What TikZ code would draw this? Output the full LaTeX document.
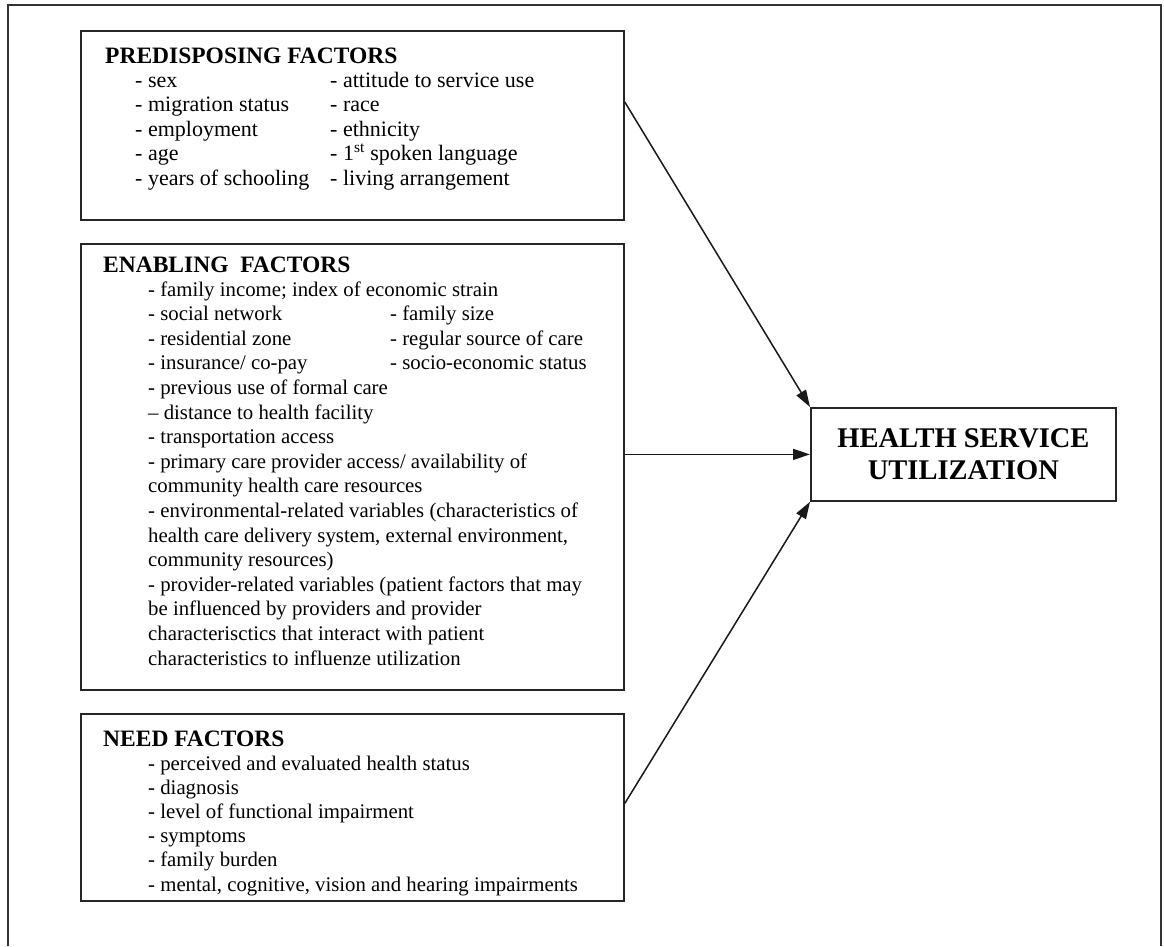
\documentclass[tikz,border=0pt]{standalone}
\usepackage{fontspec}
\setmainfont{Liberation Serif}
\usetikzlibrary{arrows.meta}
\begin{document}
\begin{tikzpicture}[x=1pt,y=-1pt,
  frame/.style={draw=black!80,line width=1.6pt},
  factorbox/.style={draw=black!85,line width=1.8pt,rectangle,anchor=north west,inner sep=0pt},
  heading/.style={anchor=base west,inner sep=0pt,font=\fontsize{23.5}{28}\selectfont\bfseries},
  item/.style={anchor=base west,inner sep=0pt,font=\fontsize{20.8}{25}\selectfont},
  wideitem/.style={item,font=\fontsize{22}{26}\selectfont},
  outcome/.style={draw=black!85,line width=1.8pt,rectangle,inner sep=0pt,
    minimum width=305pt,minimum height=93pt,align=center,
    font=\fontsize{28.5}{32}\selectfont\bfseries},
  conn/.style={draw=black!90,line width=1.5pt,-{Triangle[length=17pt,width=11pt]}}]
\useasboundingbox (0,0) rectangle (1164,946);
\fill[white] (0,0) rectangle (1164,946);

% page frame, open at the bottom
\draw[frame] (8,946) -- (8,5) -- (1161,5) -- (1161,946);

% the three groups of factors
\node[factorbox,minimum width=543pt,minimum height=189pt] (pred) at (80,30) {};
\node[factorbox,minimum width=543pt,minimum height=446pt] (enab) at (80,243) {};
\node[factorbox,minimum width=543pt,minimum height=187pt] (need) at (80,713) {};

% outcome
\node[outcome,anchor=north west] (hsu) at (810,407) {HEALTH SERVICE\\UTILIZATION};

% predisposing factors
\node[heading] (predT) at (105,63) {PREDISPOSING FACTORS};
\foreach \t [count=\i] in {- sex,- migration status,- employment,- age,- years of schooling}
  \node[wideitem] (predL\i) at (135,{87+(\i-1)*24.5}) {\t};
\foreach \t [count=\i] in {- attitude to service use,- race,- ethnicity,
    - 1\textsuperscript{st} spoken language,- living arrangement}
  \node[wideitem] (predR\i) at (330,{87+(\i-1)*24.5}) {\t};

% enabling factors
\node[heading] (enabT) at (103,272) {ENABLING\ \ FACTORS};
\foreach \t [count=\i] in {
    - family income; index of economic strain,
    - social network,
    - residential zone,
    - insurance/ co-pay,
    - previous use of formal care,
    -- distance to health facility,
    - transportation access,
    - primary care provider access/ availability of,
    community health care resources,
    - environmental-related variables (characteristics of,
    {health care delivery system, external environment,},
    community resources),
    - provider-related variables (patient factors that may,
    be influenced by providers and provider,
    characterisctics that interact with patient,
    characteristics to influenze utilization}
  \node[item] (enabL\i) at (148,{296+(\i-1)*24.6}) {\t};
\foreach \t [count=\i] in {- family size,- regular source of care,- socio-economic status}
  \node[item] (enabR\i) at (390,{296+\i*24.6}) {\t};

% need factors
\node[heading] (needT) at (103,746) {NEED FACTORS};
\foreach \t [count=\i] in {
    - perceived and evaluated health status,
    - diagnosis,
    - level of functional impairment,
    - symptoms,
    - family burden,
    {- mental, cognitive, vision and hearing impairments}}
  \node[item] (needL\i) at (148,{770+(\i-1)*24.2}) {\t};

% influences on utilization
\draw[conn] ([yshift=-72pt]pred.north east) -- (hsu.north west);
\draw[conn] (enab.east |- hsu.west) -- (hsu.west);
\draw[conn] ([yshift=4pt]need.east) -- (hsu.south west);
\end{tikzpicture}
\end{document}
